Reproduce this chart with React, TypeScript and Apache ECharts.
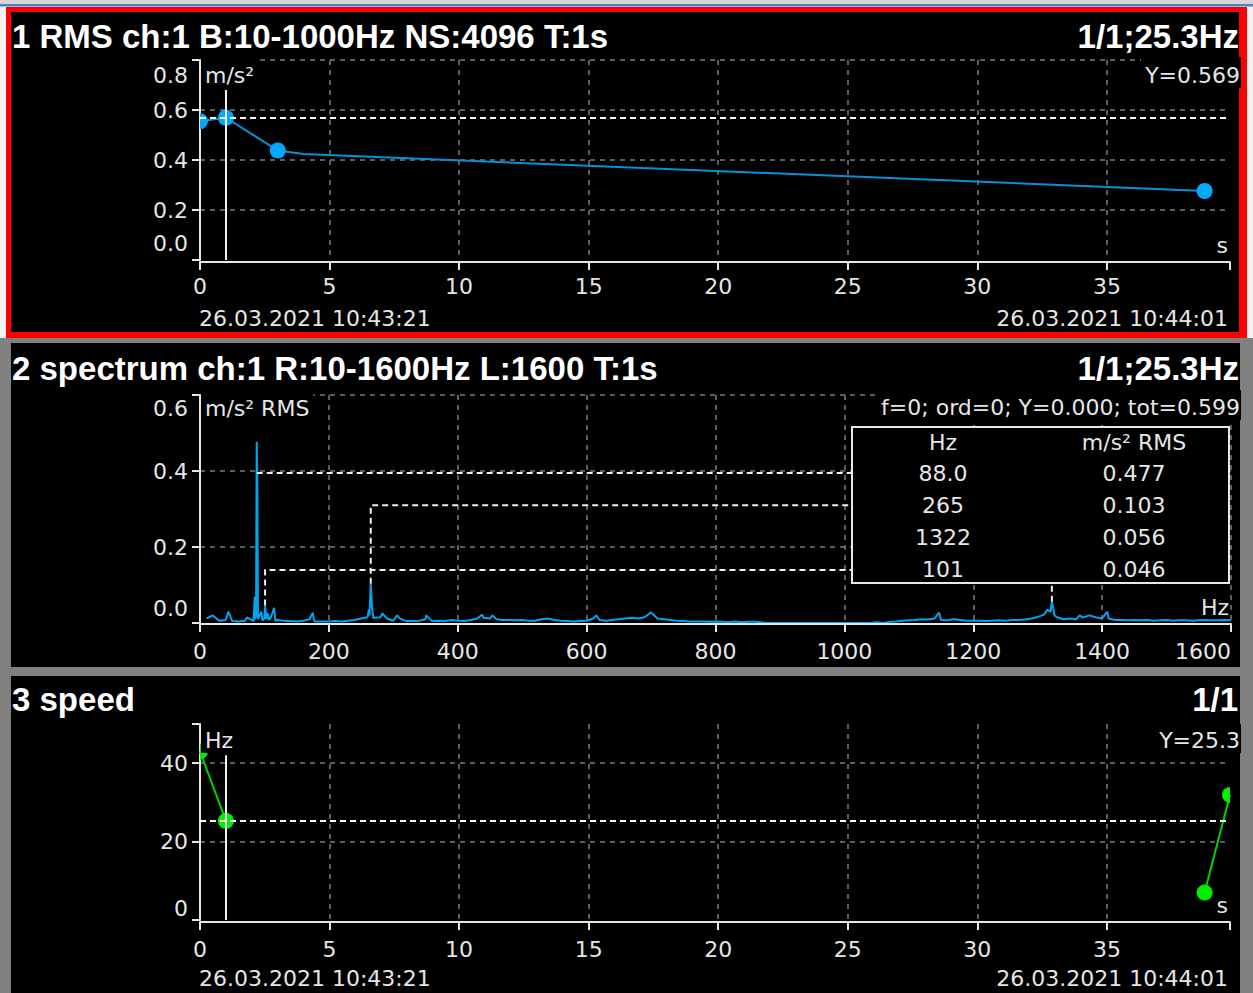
import React, { useEffect, useRef } from "react";
import * as echarts from "echarts";

const W = 1253;
const H = 993;

// ---------- texts ----------
const panel1Title = "1 RMS ch:1 B:10-1000Hz NS:4096 T:1s";
const panel1Right = "1/1;25.3Hz";
const panel2Title = "2 spectrum ch:1 R:10-1600Hz L:1600 T:1s";
const panel2Right = "1/1;25.3Hz";
const panel3Title = "3 speed";
const panel3Right = "1/1";
const startStamp = "26.03.2021 10:43:21";
const endStamp = "26.03.2021 10:44:01";
const spectrumInfo = "f=0; ord=0; Y=0.000; tot=0.599";
const rmsUnit = "m/s²";
const spectrumUnit = "m/s² RMS";
const speedUnit = "Hz";
const timeUnit = "s";
const freqUnit = "Hz";

// ---------- panel 1: RMS trend ----------
const rmsTimes = [0, 1, 3, 4, 38.77];
const rmsValues = [0.555, 0.569, 0.438, 0.424, 0.276];
const rmsMarked = [true, true, true, false, true];
const rmsCursorX = 1;
const rmsCursorY = 0.569;
const rmsCursorTop = 0.68;
const rmsYMax = 0.8;
const rmsYStep = 0.2;

// ---------- shared time axis ----------
const timeMax = 39.75;
const timeStep = 5;

// ---------- panel 3: speed ----------
const speedTimes = [0, 1, 2, 38.77, 39.75];
const speedValues: (number | null)[] = [43, 25.3, null, 7.0, 31.9];
const speedCursorX = 1;
const speedCursorY = 25.3;
const speedCursorTop = 42;
const speedYMax = 50;
const speedYStep = 20;

// ---------- panel 2: spectrum ----------
const spectrumYMax = 0.6;
const spectrumYStep = 0.2;
const freqMax = 1600;
const freqStep = 200;
const noiseStart = 10;
const noiseStep = 10;
const spectrumNoise = [
  0.012, 0.02, 0.006, 0.008, 0.005, 0.004, 0.006, 0.008, 0.01, 0.012,
  0.015, 0.008, 0.006, 0.005, 0.004, 0.006, 0.01, 0.004, 0.004, 0.004,
  0.005, 0.004, 0.006, 0.008, 0.012, 0.015, 0.014, 0.015, 0.012, 0.006,
  0.012, 0.005, 0.005, 0.006, 0.01, 0.005, 0.006, 0.005, 0.008, 0.006,
  0.005, 0.008, 0.012, 0.014, 0.012, 0.01, 0.008, 0.008, 0.007, 0.008,
  0.006, 0.006, 0.01, 0.012, 0.008, 0.006, 0.005, 0.004, 0.005, 0.006,
  0.012, 0.008, 0.006, 0.008, 0.01, 0.012, 0.014, 0.012, 0.015, 0.014,
  0.012, 0.01, 0.008, 0.006, 0.005, 0.004, 0.004, 0.004, 0.003, 0.004,
  0.003, 0.002, 0.004, 0.002, 0.003, 0.003, 0.002, 0, 0, 0,
  0, 0, 0, 0, 0, 0, 0, 0, 0, 0,
  0, 0, 0, 0, 0.002, 0, 0.003, 0.004, 0.006, 0.007,
  0.008, 0.01, 0.009, 0.012, 0.008, 0.007, 0.01, 0.008, 0.006, 0.006,
  0.006, 0.005, 0.006, 0.007, 0.006, 0.008, 0.008, 0.009, 0.012, 0.016,
  0.022, 0.03, 0.015, 0.01, 0.012, 0.01, 0.014, 0.012, 0.015, 0.012,
  0.012, 0.008, 0.008, 0.007, 0.008, 0.007, 0.008, 0.006, 0.007, 0.008,
  0.006, 0.007, 0.007, 0.006, 0.007, 0.008, 0.007, 0.007, 0.008, 0.007,
];
const spectrumSpikes: [number, number][] = [
  [44, 0.03], [73, 0.015], [83, 0.005], [85, 0.069], [86, 0.01], [87, 0.02],
  [88, 0.477], [89, 0.368], [91, 0.015], [95, 0.03], [97, 0.006], [101, 0.046],
  [103, 0.01], [105, 0.025], [107, 0.008], [115, 0.04], [117, 0.006],
  [175, 0.027], [177, 0.005], [262, 0.035], [263, 0.02], [265, 0.103],
  [266, 0.07], [267, 0.04], [269, 0.012], [283, 0.025], [306, 0.02],
  [351, 0.02], [438, 0.022], [454, 0.02], [615, 0.02], [700, 0.028],
  [1147, 0.027], [1315, 0.035], [1322, 0.056], [1324, 0.04], [1326, 0.02],
  [1365, 0.02], [1380, 0.02], [1408, 0.03],
];
const peakFreqs = [88.0, 265, 1322, 101];
const peakValues = [0.477, 0.103, 0.056, 0.046];

// ---------- styles ----------
const TXT = "#e6e6e6";
const GRIDC = "#7c7c7c";
const THIN = "'DejaVu Sans', sans-serif";
const BOLD = "bold 33px 'Liberation Sans', Arial, sans-serif";
const FONT22 = "22px 'DejaVu Sans', sans-serif";
const BLUE_LINE = "#0a8fd6";
const BLUE_DOT = "#00a8ff";
const GREEN_LINE = "#00d400";
const GREEN_DOT = "#00ee00";
const SPEC = "#00a4f0";
const HALF_R = "path://M0,0A8,8,0,0,1,0,16Z";
const HALF_L = "path://M8,0A8,8,0,0,0,8,16Z";

// ---------- layout ----------
const G1 = { left: 200, top: 60, width: 1030, height: 200 };
const G2 = { left: 200, top: 395, width: 1031, height: 228 };
const G3 = { left: 200, top: 724, width: 1030, height: 196 };
const TABLE = { x: 852, y: 427, w: 377, h: 156, header: 442, row0: 473, rowStep: 32.3, col1: 943, col2: 1134 };

function buildSpectrum(): [number, number][] {
  const m = new Map<number, number>();
  spectrumNoise.forEach((v, i) => m.set(noiseStart + i * noiseStep, v));
  spectrumSpikes.forEach(([f, v]) => m.set(f, v));
  return Array.from(m.entries()).sort((a, b) => a[0] - b[0]);
}

function yFmt(max: number, digits: number, hideMax: boolean) {
  return (v: number) => {
    const s = v.toFixed(digits);
    if (Math.abs(v - max) < 1e-9) return hideMax ? "" : `{top|${s}}`;
    if (Math.abs(v) < 1e-9) return `{bot|${s}}`;
    return s;
  };
}

function richFor(topPad: number, botPad: number) {
  return {
    top: { padding: [topPad, 0, 0, 0], color: TXT, fontFamily: THIN, fontSize: 22 },
    bot: { padding: [0, 0, botPad, 0], color: TXT, fontFamily: THIN, fontSize: 22 },
  };
}

const dashed = { color: GRIDC, type: [5, 5] as any, width: 1.5 };

function xAxis(gridIndex: number, max: number, interval: number, offset: number, margin: number, name: string, fmt: any, showMax: boolean, z = 0, alignMax = "center") {
  return {
    type: "value", gridIndex, min: 0, max, interval, offset, z,
    axisLine: { show: true, onZero: false, lineStyle: { color: TXT, width: 2 } },
    axisTick: { show: true, length: 8, lineStyle: { color: TXT, width: 2 } },
    axisLabel: { margin, color: TXT, fontFamily: THIN, fontSize: 22, formatter: fmt, alignMaxLabel: alignMax },
    splitLine: { show: true, showMinLine: false, showMaxLine: showMax, lineStyle: dashed },
    name, nameLocation: "end", nameGap: 0, nameMoveOverlap: false,
    nameTextStyle: { align: "right", verticalAlign: "bottom", padding: [0, 2, 6, 0], color: TXT, fontFamily: THIN, fontSize: 22 },
  };
}

function yAxis(gridIndex: number, max: number, interval: number, fmt: any, rich: any, showMax: boolean) {
  return {
    type: "value", gridIndex, min: 0, max, interval,
    axisLine: { show: true, onZero: false, lineStyle: { color: TXT, width: 2 } },
    axisTick: { show: true, length: 8, lineStyle: { color: TXT, width: 2 } },
    axisLabel: { margin: 12, color: TXT, fontFamily: THIN, fontSize: 22, formatter: fmt, rich },
    splitLine: { show: true, showMinLine: false, showMaxLine: showMax, lineStyle: dashed },
  };
}

function txt(id: string, text: string, x: number, y: number, align: string, vAlign: string, font: string, extra: any = {}) {
  return {
    type: "text", id, z: 20, silent: true,
    style: { text, x, y, fill: extra.fill || TXT, font, align, verticalAlign: vAlign, ...extra },
  };
}

function baseGraphics() {
  const g: any[] = [
    { type: "rect", id: "bgTop", z: -10, silent: true, shape: { x: 0, y: 0, width: W, height: 338 }, style: { fill: "#f2f2f2" } },
    { type: "rect", id: "bgStrip1", z: -9, silent: true, shape: { x: 0, y: 0, width: W, height: 4 }, style: { fill: "#d6d6d6" } },
    { type: "rect", id: "bgStrip2", z: -9, silent: true, shape: { x: 0, y: 4, width: W, height: 2.5 }, style: { fill: "#4f7fc4" } },
    { type: "rect", id: "red", z: -8, silent: true, shape: { x: 6, y: 7, width: 1241, height: 331 }, style: { fill: "#ff0000" } },
    { type: "rect", id: "p1", z: -7, silent: true, shape: { x: 11, y: 12, width: 1228, height: 320 }, style: { fill: "#000" } },
    { type: "rect", id: "p2", z: -7, silent: true, shape: { x: 11, y: 343, width: 1229, height: 324 }, style: { fill: "#000" } },
    { type: "rect", id: "p3", z: -7, silent: true, shape: { x: 11, y: 676, width: 1229, height: 330 }, style: { fill: "#000" } },
    txt("t1", panel1Title, 12, 36, "left", "middle", BOLD, { fill: "#ffffff" }),
    txt("r1", panel1Right, 1239, 36, "right", "middle", BOLD, { fill: "#ffffff" }),
    txt("t2", panel2Title, 12, 368, "left", "middle", BOLD, { fill: "#ffffff" }),
    txt("r2", panel2Right, 1239, 368, "right", "middle", BOLD, { fill: "#ffffff" }),
    txt("t3", panel3Title, 12, 699, "left", "middle", BOLD, { fill: "#ffffff" }),
    txt("r3", panel3Right, 1238, 699, "right", "middle", BOLD, { fill: "#ffffff" }),
    txt("u1", rmsUnit, 201, 57, "left", "top", FONT22, { backgroundColor: "#000", padding: [7, 4, 2, 4] }),
    txt("y1", `Y=${rmsCursorY.toFixed(3)}`, 1241, 57, "right", "top", FONT22, { backgroundColor: "#000", padding: [7, 1, 2, 4] }),
    txt("u2", spectrumUnit, 201, 391, "left", "top", FONT22, { backgroundColor: "#000", padding: [6, 4, 2, 4] }),
    txt("y2", spectrumInfo, 1241, 390, "right", "top", FONT22, { backgroundColor: "#000", padding: [6, 1, 2, 4] }),
    txt("u3", speedUnit, 201, 724, "left", "top", FONT22, { backgroundColor: "#000", padding: [5, 4, 2, 4] }),
    txt("y3", `Y=${speedCursorY.toFixed(1)}`, 1241, 724, "right", "top", FONT22, { backgroundColor: "#000", padding: [5, 1, 2, 4] }),
    txt("s1", startStamp, 199, 318, "left", "middle", FONT22),
    txt("e1", endStamp, 1228, 318, "right", "middle", FONT22),
    txt("s3", startStamp, 199, 978, "left", "middle", FONT22),
    txt("e3", endStamp, 1228, 978, "right", "middle", FONT22),
    { type: "rect", id: "table", z: 30, silent: true, shape: { x: TABLE.x, y: TABLE.y, width: TABLE.w, height: TABLE.h }, style: { fill: "#000", stroke: "#e8e8e8", lineWidth: 2 } },
  ];
  const tz = (o: any) => ({ ...o, z: 31 });
  g.push(tz(txt("th1", freqUnit, TABLE.col1, TABLE.header, "center", "middle", FONT22)));
  g.push(tz(txt("th2", spectrumUnit, TABLE.col2, TABLE.header, "center", "middle", FONT22)));
  peakFreqs.forEach((f, i) => {
    const y = TABLE.row0 + i * TABLE.rowStep;
    g.push(tz(txt("tf" + i, f < 100 ? f.toFixed(1) : f.toFixed(0), TABLE.col1, y, "center", "middle", FONT22)));
    g.push(tz(txt("tv" + i, peakValues[i].toFixed(3), TABLE.col2, y, "center", "middle", FONT22)));
  });
  return g;
}

function edgeSymbol(item: any, side: "L" | "R") {
  item.symbol = side === "R" ? HALF_R : HALF_L;
  item.symbolSize = [8, 16];
  item.symbolOffset = [side === "R" ? 4 : -4, 0];
  return item;
}

function buildOption() {
  const timeFmt = (v: number) => (Math.abs(v % timeStep) < 1e-9 ? String(v) : "");
  const rmsData = rmsTimes.map((t, i) => {
    const item: any = { value: [t, rmsValues[i]] };
    if (!rmsMarked[i]) item.symbol = "none";
    if (t === 0) edgeSymbol(item, "R");
    if (t >= timeMax) edgeSymbol(item, "L");
    return item;
  });
  const speedData = speedTimes.map((t, i) => {
    const v = speedValues[i];
    const item: any = { value: [t, v === null ? "-" : v] };
    if (t === 0) edgeSymbol(item, "R");
    if (t >= timeMax) edgeSymbol(item, "L");
    return item;
  });
  const cursorLine = (x: number, y: number, top: number) => ({
    silent: true, symbol: ["none", "none"], label: { show: false }, animation: false,
    emphasis: { disabled: true },
    data: [
      { yAxis: y, lineStyle: { color: "#ffffff", type: [6, 4], width: 2 } },
      [{ coord: [x, top], lineStyle: { color: "#f0f0f0", type: "solid", width: 2 } }, { coord: [x, 0] }],
    ],
  });

  return {
    animation: false,
    backgroundColor: "#808080",
    grid: [
      { ...G1, outerBoundsMode: "none", containLabel: false },
      { ...G2, outerBoundsMode: "none", containLabel: false },
      { ...G3, outerBoundsMode: "none", containLabel: false },
    ],
    xAxis: [
      xAxis(0, timeMax, timeStep, 2, 13, timeUnit, timeFmt, false),
      xAxis(1, freqMax, freqStep, 1, 16, freqUnit, (v: number) => String(v), true, 3, "right"),
      xAxis(2, timeMax, timeStep, 2, 16, timeUnit, timeFmt, false),
    ],
    yAxis: [
      yAxis(0, rmsYMax, rmsYStep, yFmt(rmsYMax, 1, false), richFor(30, 34), true),
      yAxis(1, spectrumYMax, spectrumYStep, yFmt(spectrumYMax, 1, false), richFor(26, 30), true),
      yAxis(2, speedYMax, speedYStep, yFmt(speedYMax, 0, true), richFor(0, 24), false),
    ],
    series: [
      {
        type: "line", xAxisIndex: 0, yAxisIndex: 0, data: rmsData,
        showAllSymbol: true, symbol: "circle", symbolSize: 16,
        itemStyle: { color: BLUE_DOT }, lineStyle: { color: BLUE_LINE, width: 2 },
        emphasis: { disabled: true }, z: 2,
        markLine: cursorLine(rmsCursorX, rmsCursorY, rmsCursorTop),
      },
      {
        type: "line", xAxisIndex: 1, yAxisIndex: 1, data: buildSpectrum(),
        showSymbol: false,
        lineStyle: { color: SPEC, width: 2 }, itemStyle: { color: SPEC },
        emphasis: { disabled: true }, z: 2,
      },
      {
        type: "line", xAxisIndex: 2, yAxisIndex: 2, data: speedData,
        showAllSymbol: true, symbol: "circle", symbolSize: 16, connectNulls: false,
        itemStyle: { color: GREEN_DOT }, lineStyle: { color: GREEN_LINE, width: 2 },
        emphasis: { disabled: true }, z: 2,
        markLine: cursorLine(speedCursorX, speedCursorY, speedCursorTop),
      },
    ],
    graphic: { elements: baseGraphics() },
  };
}

export default function App() {
  const ref = useRef<HTMLDivElement>(null);
  useEffect(() => {
    const el = ref.current;
    if (!el) return;
    const chart = echarts.init(el, null, { renderer: "svg", width: W, height: H });
    chart.setOption(buildOption() as any);
    // leader lines from spectrum peaks to the table rows
    const leaders: any[] = [];
    peakFreqs.forEach((f, i) => {
      const p = chart.convertToPixel({ gridIndex: 1 } as any, [f, peakValues[i]]) as number[];
      if (!p) return;
      const rowY = TABLE.row0 + i * TABLE.rowStep;
      const pts = p[1] > rowY ? [[p[0], p[1]], [p[0], rowY], [TABLE.x, rowY]] : [[p[0], rowY], [TABLE.x, rowY]];
      leaders.push({
        type: "polyline", id: "lead" + i, z: 10, silent: true,
        shape: { points: pts },
        style: { stroke: "#f0f0f0", lineWidth: 2, lineDash: [6, 4], fill: null },
      });
    });
    chart.setOption({ graphic: { elements: baseGraphics().concat(leaders) } } as any);
    return () => chart.dispose();
  }, []);
  return <div ref={ref} style={{ position: "absolute", left: 0, top: 0, width: W, height: H }} />;
}
